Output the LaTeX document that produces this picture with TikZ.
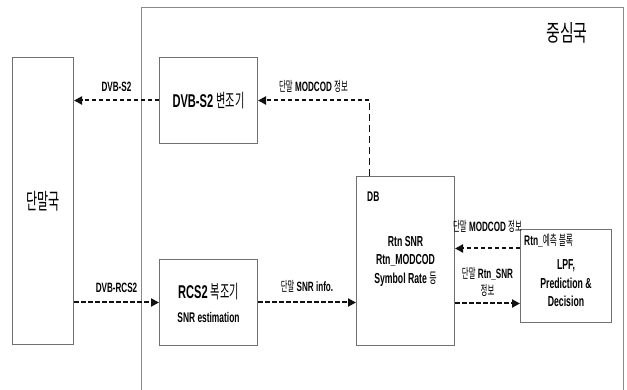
\documentclass[tikz,border=0pt]{standalone}
\usepackage{fontspec}
\setmainfont{Liberation Sans}[FakeStretch=0.6]
\newfontfamily\krfont{Noto Sans CJK KR}[FakeStretch=0.55]
\newfontfamily\krwide{Noto Sans CJK KR}[FakeStretch=0.65]
\usetikzlibrary{arrows.meta}
\usetikzlibrary{positioning}
\usepackage{xcolor}
\definecolor{boxgrey}{HTML}{707070}
\definecolor{framegrey}{HTML}{8A8A8A}
\definecolor{inkdark}{HTML}{111111}
\newcommand{\ko}[1]{{\krfont\mdseries #1}}

\begin{document}
\begin{tikzpicture}[
  x=1pt, y=-1pt,
  unit/.style={rectangle, draw=boxgrey, line width=1pt,
    align=center, inner sep=2pt},
  title/.style={font=\fontsize{18.5}{21}\selectfont\bfseries},
  body/.style={font=\fontsize{14.5}{18.5}\selectfont\bfseries,
    align=center, inner sep=0pt},
  tag/.style={font=\fontsize{14}{16}\selectfont\bfseries, inner sep=0pt},
  arrow/.style={-{Triangle[length=8pt, width=8pt]}, line width=2pt,
    draw=inkdark, dash pattern=on 4.5pt off 2.5pt},
  feed/.style={line width=1pt, draw=inkdark, dash pattern=on 7pt off 4pt},
  lbl/.style={font=\fontsize{13.5}{17}\selectfont\bfseries,
    align=center, inner sep=0pt},
]
\useasboundingbox (0,0) rectangle (627,390);

% === Hub station frame ===
\draw[draw=framegrey, line width=1pt] (141,392) |- (623,8) -- (623,392);
\node[font=\krwide\fontsize{23}{26}\selectfont] (hub) at (567,33) {중심국};

% === Terminal ===
\node[unit, minimum width=61pt, minimum height=287pt, anchor=north west,
  font=\krfont\fontsize{22}{24}\selectfont] (term) at (12,57) {단말국};

% === Modulator / demodulator ===
\node[unit, title, minimum width=98pt, minimum height=86pt,
  right=85pt of term.north east, anchor=north west] (mod)
  {DVB-S2 \ko{변조기}};

\node[unit, title, minimum width=98pt, minimum height=86pt,
  below=115pt of mod] (demod)
  {RCS2 \ko{복조기}\\[3pt]{\fontsize{14}{16}\selectfont SNR estimation}};

% === DB ===
\node[unit, minimum width=98pt, minimum height=169pt,
  right=98pt of demod.south east, anchor=south west] (db) {};
\node[tag, anchor=north west] (dbtag) at ([shift={(11pt,-16pt)}]db.north west) {DB};
\node[body] (dbtxt) at (db.center) {Rtn SNR\\Rtn\_MODCOD\\Symbol Rate \ko{등}};

% === Prediction block ===
\node[unit, minimum width=91pt, minimum height=93pt,
  right=65pt of db, yshift=-15pt] (pred) {};
\node[tag, anchor=north west] (predtag) at ([shift={(4pt,-5pt)}]pred.north west)
  {Rtn\_\ko{예측 블록}};
\node[body] (predtxt) at ([yshift=-7.5pt]pred.center) {LPF,\\Prediction \&\\Decision};

\coordinate (predout) at ([yshift=27.5pt]pred.west);
\coordinate (predin) at ([yshift=-27.5pt]pred.west);
\coordinate (dbtap) at ([xshift=13pt]db.north west);
\coordinate (turn) at (dbtap |- mod.east);

% === Arrows ===
\draw[arrow] (mod.west) -- (mod.west -| term.east)
  node[lbl, midway, above=8pt] {DVB-S2};
\draw[feed] (dbtap) -- (turn);
\draw[arrow] (turn) -- (mod.east)
  node[lbl, midway, above=7pt] {\ko{단말} MODCOD \ko{정보}};
\draw[arrow] (term.east |- demod.west) -- (demod.west)
  node[lbl, midway, above=9pt] {DVB-RCS2};
\draw[arrow] (demod.east) -- (demod.east -| db.west)
  node[lbl, midway, above=9pt] {\ko{단말} SNR info.};
\draw[arrow] (predout) -- (predout -| db.east)
  node[lbl, midway, above=15pt] {\ko{단말} MODCOD \ko{정보}};
\draw[arrow] (predin -| db.east) -- (predin)
  node[lbl, midway, above=6pt] {\ko{단말} Rtn\_SNR\\\ko{정보}};

\end{tikzpicture}
\end{document}
